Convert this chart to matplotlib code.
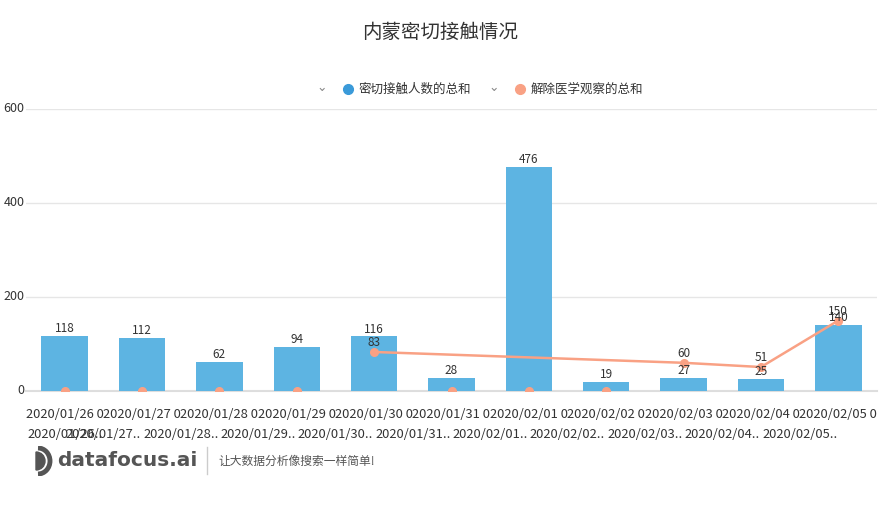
import numpy as np
import matplotlib
matplotlib.use("Agg")
import matplotlib.pyplot as plt
from matplotlib.patches import Wedge, Arc
from matplotlib.lines import Line2D

plt.rcParams['font.family'] = ['Noto Sans CJK SC', 'DejaVu Sans']

# Data
dates = ["2020/01/26", "2020/01/27", "2020/01/28", "2020/01/29", "2020/01/30", "2020/01/31",
         "2020/02/01", "2020/02/02", "2020/02/03", "2020/02/04", "2020/02/05"]
contacts = [118, 112, 62, 94, 116, 28, 476, 19, 27, 25, 140]
released = [np.nan, np.nan, np.nan, np.nan, 83, np.nan, np.nan, np.nan, 60, 51, 150]
yticks = [0, 200, 400, 600]

title = "内蒙密切接触情况"
bar_name = "密切接触人数的总和"
line_name = "解除医学观察的总和"

bar_color = "#5db4e2"
line_color = "#f9a184"
text_color = "#333333"

fig = plt.figure(figsize=(8.81, 5.25), dpi=100)
ax = fig.add_axes([26 / 881, 1 - 391 / 525, 851 / 881, (391 - 109) / 525])

x = np.arange(len(dates))
rel = np.array(released, dtype=float)

ax.bar(x, contacts, width=0.6, color=bar_color, zorder=2)
for xi, v in zip(x, contacts):
    ax.text(xi, v + 2, str(v), ha="center", va="bottom", fontsize=8.5, color=text_color, zorder=5)

# line, nulls drawn as markers on the baseline
ok = ~np.isnan(rel)
ax.plot(x[ok], rel[ok], color=line_color, lw=1.8, marker="o", ms=5.5, zorder=3)
ax.plot(x[~ok], np.zeros((~ok).sum()), ls="none", color=line_color, marker="o", ms=5.5, zorder=3)
for xi, v in zip(x[ok], rel[ok]):
    ax.text(xi, v + 6, str(int(v)), ha="center", va="bottom", fontsize=8.5, color=text_color, zorder=5)

ax.set_xlim(-0.5, len(dates) - 0.5)
ax.set_ylim(0, 600)
ax.set_yticks(yticks)
ax.set_yticklabels([])
ax.set_xticks([])
ax.grid(axis="y", color="#e6e6e6", lw=1, zorder=0)
for s in ["top", "right", "left"]:
    ax.spines[s].set_visible(False)
ax.spines["bottom"].set_color("#dddddd")
ax.spines["bottom"].set_linewidth(1.5)
ax.spines["bottom"].set_zorder(1)
ax.tick_params(length=0)

# y tick labels
for t in yticks:
    ax.text(-0.52, t, str(t), transform=ax.transData, ha="right", va="center", fontsize=9, color=text_color)

# x labels, first row at bar centres
for xi, d in zip(x, dates):
    ax.annotate(d + " 0", (xi, 0), xytext=(0, -17), textcoords="offset points",
                xycoords="data", ha="center", va="center", fontsize=9.3, color=text_color,
                annotation_clip=False)
# second row, shifted half a category
for i, d in enumerate(dates):
    if i == 0:
        ax.annotate(d + "..", (-0.5, 0), xytext=(1, -31), textcoords="offset points",
                    ha="left", va="center", fontsize=9.3, color=text_color, annotation_clip=False)
    else:
        ax.annotate(d + "..", (i - 0.5, 0), xytext=(0, -31), textcoords="offset points",
                    ha="center", va="center", fontsize=9.3, color=text_color, annotation_clip=False)

# title
fig.text(0.5, 1 - 32 / 525, title, ha="center", va="center", fontsize=14, color=text_color)

# legend
ly = 1 - 89 / 525
fig.text(322 / 881, ly + 0.003, "⌄", ha="center", va="center", fontsize=9, color="#888888",
         family=["DejaVu Sans"])
fig.add_artist(Line2D([348 / 881], [ly], marker="o", ms=7, color="#3a9ad9", transform=fig.transFigure))
fig.text(359 / 881, ly, bar_name, ha="left", va="center", fontsize=9, color=text_color)
fig.text(494 / 881, ly + 0.003, "⌄", ha="center", va="center", fontsize=9, color="#888888",
         family=["DejaVu Sans"])
fig.add_artist(Line2D([520 / 881], [ly], marker="o", ms=7, color=line_color, transform=fig.transFigure))
fig.text(531 / 881, ly, line_name, ha="left", va="center", fontsize=9, color=text_color)

# footer logo
lax = fig.add_axes([28 / 881, 1 - 476 / 525, 28 / 881, 30 / 525])
lax.set_xlim(0, 28)
lax.set_ylim(0, 30)
lax.axis("off")
lax.add_patch(Wedge((8, 15), 9, -90, 90, color="#555555"))
lax.add_patch(Arc((10, 15), 24, 26, theta1=-90, theta2=90, color="#555555", lw=3.5))
fig.text(57 / 881, 1 - 461 / 525, "datafocus.ai", ha="left", va="center", fontsize=14.5,
         fontweight="bold", color="#555555", family=["DejaVu Sans"])
fig.add_artist(Line2D([207 / 881, 207 / 881], [1 - 447 / 525, 1 - 474 / 525], color="#cccccc", lw=1,
                      transform=fig.transFigure))
fig.text(218 / 881, 1 - 461 / 525, "让大数据分析像搜索一样简单!", ha="left", va="center",
         fontsize=8.5, color="#555555")

fig.savefig("out.png", dpi=100)
